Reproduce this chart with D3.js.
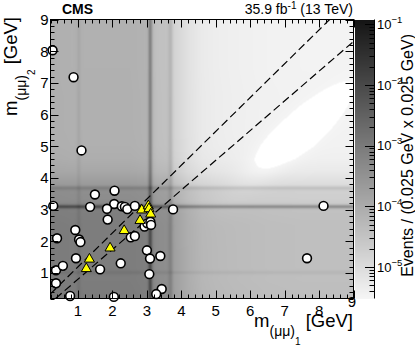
<!DOCTYPE html>
<html><head><meta charset="utf-8">
<script src="https://cdn.jsdelivr.net/npm/d3@7"></script>
<style>
body{margin:0;background:#fff;}
text{font-family:"Liberation Sans",Arial,Helvetica,sans-serif;fill:#000;}
</style>
</head><body>
<svg id="c" width="415" height="360"></svg>
<script>
// ---------------- data ----------------
const massDomain = [0.2, 9];
const majorTicks = [1, 2, 3, 4, 5, 6, 7, 8, 9];
const zTickExps = [-1, -2, -3, -4, -5];
const zLogDomain = [-5.52, -0.92];

// 1D background shape (log10, relative)
const massNodes = [0.2, 0.8, 1.5, 2.5, 3.0, 3.3, 3.6, 3.8, 4.2, 4.6, 5.0, 5.5, 6.5, 7.5, 9.0];
const profX = [0.03, 0, 0, 0, -0.05, -0.32, -0.36, -0.72, -1.0, -1.18, -1.24, -1.28, -1.33, -1.35, -1.35];
const profY = [0.03, 0, 0, 0, -0.05, -0.32, -0.36, -0.62, -0.88, -1.0, -1.04, -1.05, -1.05, -1.06, -1.06];
const bkgLogNorm = -3.06;
// resonances (phi, J/psi, psi(2S))
const resMass = [1.02, 3.097, 3.686];
const resBoost = [0.18, 1.15, 0.42];
const resSigma = [0.04, 0.04, 0.045];
// low-density pocket below the diagonal band (centre m1,m2; widths along / across diagonal; depth in log10)
const pocketCentre = [7.1, 5.1];
const pocketWidth = [1.45, 0.36];
const pocketDepth = 0.3;

// off-diagonal data events
const dataM1 = [0.26, 0.87, 1.10, 0.28, 1.49, 1.35, 2.06, 2.05, 1.84, 2.27, 2.36, 2.43, 2.65, 1.86, 3.76, 8.13,
  0.92, 0.39, 1.03, 1.07, 0.94, 0.36, 0.56, 0.36, 0.77, 1.64, 2.24, 2.04, 2.53, 2.65, 2.93, 3.01, 3.10, 3.12,
  3.00, 3.09, 3.39, 3.07, 3.43, 3.27, 7.65];
const dataM2 = [8.03, 7.18, 4.87, 3.12, 3.48, 3.09, 3.60, 3.18, 3.03, 3.11, 3.09, 3.02, 3.12, 2.69, 3.01, 3.12,
  2.36, 2.10, 2.06, 1.98, 1.47, 1.09, 1.23, 0.68, 0.28, 1.12, 1.31, 0.25, 2.13, 2.17, 2.47, 2.57, 2.62, 2.52,
  1.72, 1.46, 1.54, 0.97, 0.50, 0.34, 1.47];
// signal-region events
const sigM1 = [1.24, 1.33, 1.93, 2.34, 2.80, 2.85, 3.04, 3.06, 3.11];
const sigM2 = [1.14, 1.44, 1.79, 2.34, 2.66, 2.99, 3.12, 3.03, 2.86];
// signal-region boundaries
const bandUpper = [[0.2, 0.348], [8.307, 9.0]];
const bandLower = [[0.348, 0.2], [9.0, 8.307]];

// ---------------- drawing ----------------
const svg = d3.select("#c");
const x = d3.scaleLinear().domain(massDomain).range([50.5, 353.5]);
const y = d3.scaleLinear().domain(massDomain).range([298.5, 19.5]);
const gray = d3.scaleLinear().domain(zLogDomain).range([245, 20]).clamp(true);
const zY = d3.scaleLog().domain(zLogDomain.map(v => Math.pow(10, v))).range([298.5, 19.5]);

const interpX = d3.scaleLinear().domain(massNodes).range(profX).clamp(true);
const interpY = d3.scaleLinear().domain(massNodes).range(profY).clamp(true);
function resTerm(m) {
  let s = 0;
  resMass.forEach((r, i) => { const d = (m - r) / resSigma[i]; s += resBoost[i] * Math.exp(-0.5 * d * d); });
  return s;
}
function pocketTerm(m1, m2) {
  const u = ((m1 - pocketCentre[0]) + (m2 - pocketCentre[1])) / Math.SQRT2;
  const w = ((m1 - pocketCentre[0]) - (m2 - pocketCentre[1])) / Math.SQRT2;
  const a = u / pocketWidth[0], b = w / pocketWidth[1];
  return -pocketDepth * Math.exp(-0.5 * (a * a + b * b));
}
function logDensity(m1, m2) {
  return bkgLogNorm + interpX(m1) + resTerm(m1) + interpY(m2) + resTerm(m2) + pocketTerm(m1, m2);
}

// heat map
const x0 = x.range()[0], x1 = x.range()[1], yT = y.range()[1], yB = y.range()[0];
const cw = Math.round(x1 - x0), ch = Math.round(yB - yT);
const canvas = document.createElement("canvas");
canvas.width = cw; canvas.height = ch;
const ctx = canvas.getContext("2d");
const img = ctx.createImageData(cw, ch);
for (let j = 0; j < ch; j++) {
  const m2 = y.invert(yT + j + 0.5);
  for (let i = 0; i < cw; i++) {
    const m1 = x.invert(x0 + i + 0.5);
    const v = logDensity(m1, m2);
    const g = v < zLogDomain[0] ? 255 : Math.round(gray(v));
    const k = 4 * (j * cw + i);
    img.data[k] = g; img.data[k + 1] = g; img.data[k + 2] = g; img.data[k + 3] = 255;
  }
}
ctx.putImageData(img, 0, 0);
svg.append("image").attr("x", x0).attr("y", yT).attr("width", cw).attr("height", ch)
  .attr("preserveAspectRatio", "none").attr("href", canvas.toDataURL());

// dashed signal-region lines
const line = d3.line().x(d => x(d[0])).y(d => y(d[1]));
[bandUpper, bandLower].forEach(b => {
  svg.append("path").attr("d", line(b)).attr("fill", "none").attr("stroke", "#000")
    .attr("stroke-width", 1.2).attr("stroke-dasharray", "8,4");
});

// data markers
const dataPts = dataM1.map((m, i) => [m, dataM2[i]]);
svg.append("g").selectAll("circle").data(dataPts).join("circle")
  .attr("cx", d => x(d[0])).attr("cy", d => y(d[1])).attr("r", 4.4)
  .attr("fill", "#fff").attr("stroke", "#000").attr("stroke-width", 1.6);
const sigPts = sigM1.map((m, i) => [m, sigM2[i]]);
const tri = d3.symbol().type(d3.symbolTriangle).size(44);
svg.append("g").selectAll("path").data(sigPts).join("path")
  .attr("d", tri).attr("transform", d => `translate(${x(d[0])},${y(d[1])})`)
  .attr("fill", "#ffff00").attr("stroke", "#000").attr("stroke-width", 1);

// frame
svg.append("rect").attr("x", x0).attr("y", yT).attr("width", x1 - x0).attr("height", yB - yT)
  .attr("fill", "none").attr("stroke", "#000").attr("stroke-width", 1);

// ticks
const minorTicks = d3.range(2, 91, 2).map(v => v / 10);
const tg = svg.append("g").attr("stroke", "#000").attr("stroke-width", 1);
minorTicks.forEach(t => {
  const isMaj = Math.abs(t - Math.round(t)) < 1e-6;
  const L = isMaj ? 8 : 4;
  const px = Math.round(x(t)) + 0.5, py = Math.round(y(t)) + 0.5;
  tg.append("line").attr("x1", px).attr("x2", px).attr("y1", yB).attr("y2", yB - L);
  tg.append("line").attr("x1", px).attr("x2", px).attr("y1", yT).attr("y2", yT + L);
  tg.append("line").attr("y1", py).attr("y2", py).attr("x1", x0).attr("x2", x0 + L);
  tg.append("line").attr("y1", py).attr("y2", py).attr("x1", x1).attr("x2", x1 - L);
});

// tick labels
majorTicks.forEach(t => {
  const last = t === 9;
  svg.append("text").attr("x", x(t) - (last ? 1.5 : 0)).attr("y", last ? 307 : 315.5)
    .attr("text-anchor", "middle").attr("font-size", 15).text(t);
  svg.append("text").attr("x", 48.5).attr("y", y(t) + 5.3)
    .attr("text-anchor", "end").attr("font-size", 15).text(t);
});

// axis titles
const xt = svg.append("text").attr("x", 353).attr("y", 327).attr("text-anchor", "end").attr("font-size", 18.5);
xt.append("tspan").text("m");
xt.append("tspan").attr("font-size", 14).attr("dy", 9).text("(μμ)");
xt.append("tspan").attr("font-size", 10).attr("dy", 8.5).text("1");
xt.append("tspan").attr("dy", -17.5).text(" [GeV]");

const yt = svg.append("text").attr("transform", "translate(17,17) rotate(-90)")
  .attr("text-anchor", "end").attr("font-size", 18.5);
yt.append("tspan").text("m");
yt.append("tspan").attr("font-size", 14).attr("dy", 9).text("(μμ)");
yt.append("tspan").attr("font-size", 10).attr("dy", 8.5).text("2");
yt.append("tspan").attr("dy", -17.5).text(" [GeV]");

// header
svg.append("text").attr("x", 62).attr("y", 13.5).attr("font-size", 14).attr("font-weight", "bold").text("CMS");
const lt = svg.append("text").attr("x", 353).attr("y", 13.5).attr("text-anchor", "end").attr("font-size", 14);
lt.append("tspan").text("35.9 fb");
lt.append("tspan").attr("font-size", 10).attr("dy", -5).text("-1");
lt.append("tspan").attr("dy", 5).text(" (13 TeV)");

// colour bar
const cbX0 = 355, cbX1 = 374;
const cb = svg.append("g");
d3.range(Math.round(yT), Math.round(yB)).forEach(py => {
  const v = Math.log10(zY.invert(py + 0.5));
  cb.append("rect").attr("x", cbX0).attr("y", py).attr("width", cbX1 - cbX0).attr("height", 1)
    .attr("fill", d3.rgb(gray(v), gray(v), gray(v)));
});
svg.append("line").attr("x1", cbX1 + 0.5).attr("x2", cbX1 + 0.5).attr("y1", yT).attr("y2", yB)
  .attr("stroke", "#000").attr("stroke-width", 1);
const [zMin, zMax] = zY.domain();
for (let e = -6; e <= -1; e++) {
  for (let k = 1; k <= 9; k++) {
    const val = k * Math.pow(10, e);
    if (val < zMin || val > zMax) continue;
    const py = Math.round(zY(val)) + 0.5;
    svg.append("line").attr("x1", cbX1).attr("x2", cbX1 - (k === 1 ? 9 : 4.5))
      .attr("y1", py).attr("y2", py).attr("stroke", "#000").attr("stroke-width", 1);
  }
}
zTickExps.forEach(e => {
  const t = svg.append("text").attr("x", 377).attr("y", zY(Math.pow(10, e)) + 4.7).attr("font-size", 13);
  t.append("tspan").text("10");
  t.append("tspan").attr("font-size", 9.5).attr("dy", -6).text("\u2212" + (-e));
});
svg.append("text").attr("transform", "translate(413,34) rotate(-90)").attr("text-anchor", "end")
  .attr("font-size", 16).text("Events / (0.025 GeV x 0.025 GeV)");
</script>
</body></html>
